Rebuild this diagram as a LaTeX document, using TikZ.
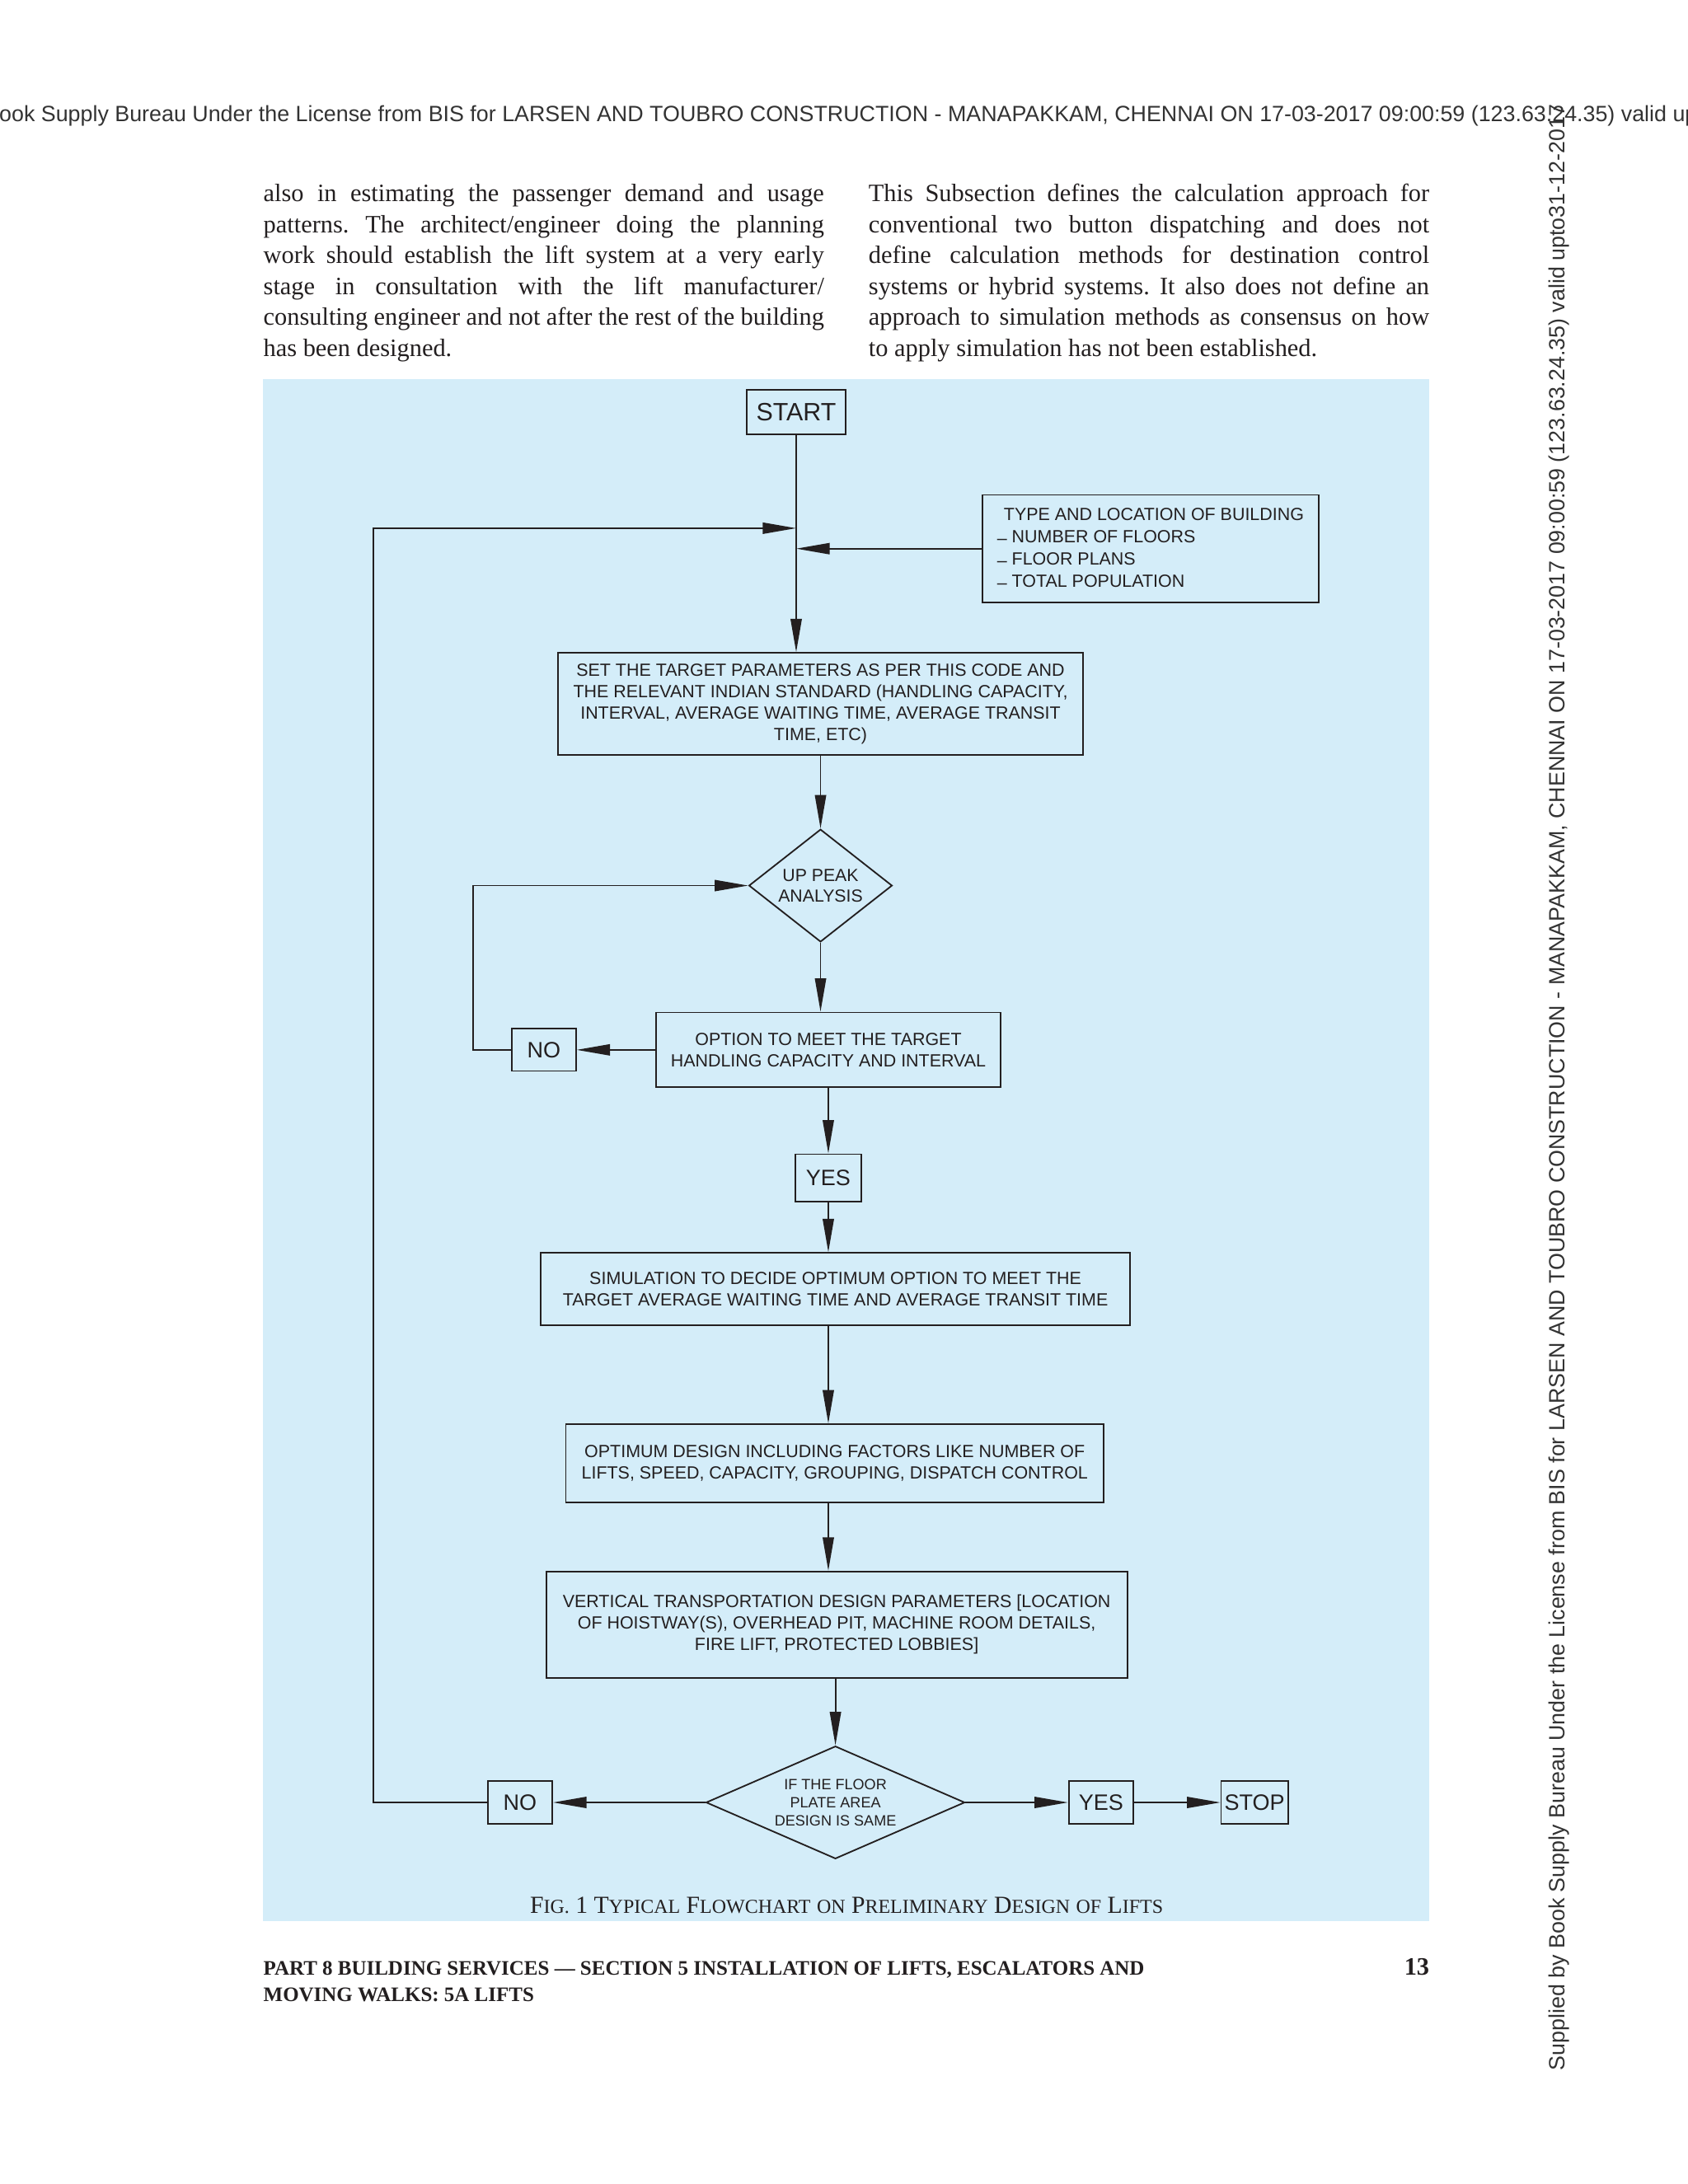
\documentclass[tikz,border=0pt]{standalone}
\usepackage{fontspec}
\setmainfont{Liberation Serif}
\setsansfont{Liberation Sans}
\usetikzlibrary{arrows.meta, shapes.geometric}
\definecolor{bl}{RGB}{212,237,249}
\definecolor{k}{HTML}{231F20}
\definecolor{g}{HTML}{333333}
\newcommand{\sct}[2]{#1{\fontsize{7.1}{9}\selectfont #2}}
\newcommand{\lowdash}{\raisebox{-0.6pt}{–} }
\frenchspacing

\begin{document}
\begin{tikzpicture}[x=0.5pt, y=-0.5pt,
    box/.style={draw=k, line width=0.55pt, inner sep=0pt, align=center, text=k,
        font=\sffamily\fontsize{6.35}{7.7}\selectfont},
    tag/.style={draw=k, line width=0.55pt, inner sep=0pt, text=k,
        font=\sffamily\fontsize{8}{9}\selectfont},
    dia/.style={box, diamond},
    arr/.style={-{Triangle[length=12pt,width=4pt]}, line width=0.55pt, draw=k}]

			% Page and figure panel
			\fill[white] (0,0) rectangle (1213.3,1570);
			\useasboundingbox (0,0) rectangle (1213.3,1570);
			\fill[bl] (189,272.5) rectangle (1027.5,1381);

			% Licence stamps along the top and the right side
			\node[anchor=base west, inner sep=0pt, text=g, font=\sffamily\fontsize{7.95}{9}\selectfont] (stamptop) at (29.2,87.5)
				{\llap{Supplied by Book }Supply Bureau Under the License from BIS for LARSEN AND TOUBRO CONSTRUCTION - MANAPAKKAM, CHENNAI ON 17-03-2017 09:00:59 (123.63.24.35) valid upto31-12-2017};
			\node[rotate=90, anchor=base west, inner sep=0pt, text=g, font=\sffamily\fontsize{7.95}{9}\selectfont] (stampside) at (1124.6,1488.8)
				{Supplied by Book Supply Bureau Under the License from BIS for LARSEN AND TOUBRO CONSTRUCTION - MANAPAKKAM, CHENNAI ON 17-03-2017 09:00:59 (123.63.24.35) valid upto31-12-2017};

			% Two columns of running text
			\node[anchor=base west, inner sep=0pt, text=k] (colL) at (189,145.1)
				{\parbox[t]{201.5pt}{\fontsize{9}{11.1}\selectfont\hyphenpenalty=10000 \tolerance=10000
				also in estimating the passenger demand and usage\linebreak
				patterns. The architect/engineer doing the planning\linebreak
				work should establish the lift system at a very early\linebreak
				stage in consultation with the lift manufacturer/\linebreak
				consulting engineer and not after the rest of the building\linebreak
				has been designed.}};
			\node[anchor=base west, inner sep=0pt, text=k] (colR) at (624,145.1)
				{\parbox[t]{201.5pt}{\fontsize{9}{11.1}\selectfont\hyphenpenalty=10000 \tolerance=10000
				This Subsection defines the calculation approach for\linebreak
				conventional two button dispatching and does not\linebreak
				define calculation methods for destination control\linebreak
				systems or hybrid systems. It also does not define an\linebreak
				approach to simulation methods as consensus on how\linebreak
				to apply simulation has not been established.}};

			% Flowchart boxes
			\node[tag, minimum width=35.45pt, minimum height=16.2pt, font=\sffamily\fontsize{9}{10}\selectfont] (start) at (572.3,296.2) {START};
			\node[box, align=left, minimum width=120.85pt, minimum height=38.6pt,
				font=\sffamily\fontsize{6.35}{8.05}\selectfont] (type) at (827,394.4)
				{\hspace{2.4pt}TYPE AND LOCATION OF BUILDING\\\lowdash NUMBER OF FLOORS\\\lowdash FLOOR PLANS\\\lowdash TOTAL POPULATION};
			\node[box, minimum width=188.8pt, minimum height=36.65pt] (set) at (589.8,506)
				{SET THE TARGET PARAMETERS AS PER THIS CODE AND\\THE RELEVANT INDIAN STANDARD (HANDLING CAPACITY,\\INTERVAL, AVERAGE WAITING TIME, AVERAGE TRANSIT\\TIME, ETC)};
			\node[dia, aspect=1.27, minimum width=51.5pt, minimum height=40.5pt,
				font=\sffamily\fontsize{6.3}{7.55}\selectfont] (d1) at (589.8,636.6) {UP PEAK\\ANALYSIS};
			\node[box, minimum width=123.8pt, minimum height=26.9pt] (meet) at (595.4,754.7)
				{OPTION TO MEET THE TARGET\\HANDLING CAPACITY AND INTERVAL};
			\node[tag, minimum width=23.05pt, minimum height=15.15pt] (no1) at (390.9,754.7) {NO};
			\node[tag, minimum width=23.6pt, minimum height=17.1pt] (yes1) at (595.4,846.8) {YES};
			\node[box, minimum width=211.95pt, minimum height=26pt] (sim) at (600.5,926.7)
				{SIMULATION TO DECIDE OPTIMUM OPTION TO MEET THE\\TARGET AVERAGE WAITING TIME AND AVERAGE TRANSIT TIME};
			\node[box, minimum width=193.25pt, minimum height=28.2pt] (optimum) at (600,1052)
				{OPTIMUM DESIGN INCLUDING FACTORS LIKE NUMBER OF\\LIFTS, SPEED, CAPACITY, GROUPING, DISPATCH CONTROL};
			\node[box, minimum width=208.85pt, minimum height=38.25pt] (vtp) at (601.4,1167.9)
				{VERTICAL TRANSPORTATION DESIGN PARAMETERS [LOCATION\\OF HOISTWAY(S), OVERHEAD PIT, MACHINE ROOM DETAILS,\\FIRE LIFT, PROTECTED LOBBIES]};
			\node[dia, aspect=2.3, minimum width=93pt, minimum height=40.5pt,
				font=\sffamily\fontsize{5.35}{6.5}\selectfont] (d2) at (600.5,1295.7) {IF THE FLOOR\\PLATE AREA\\DESIGN IS SAME};
			\node[tag, minimum width=23.2pt, minimum height=15.35pt] (no2) at (373.8,1295.7) {NO};
			\node[tag, minimum width=23.3pt, minimum height=15.2pt] (yes2) at (791.5,1295.7) {YES};
			\node[tag, minimum width=24.05pt, minimum height=15.2pt] (stop) at (901.8,1295.7) {STOP};

			% Connectors
			\coordinate (jA) at (572.3,379.7);
			\draw[arr] (start.south) -- (start.south |- set.north);
			\draw[arr] (type.west) -- (type.west -| start.south);
			\draw[arr] (no2.west) -- ++(-81.6,0) |- (jA);
			\draw[arr] (set.south) -- (d1.north);
			\draw[arr] (d1.south) -- (d1.south |- meet.north);
			\draw[arr] (meet.west) -- (no1.east);
			\draw[arr] (no1.west) -- ++(-27.3,0) |- (d1.west);
			\draw[arr] (meet.south) -- (yes1.north);
			\draw[arr] (yes1.south) -- (yes1.south |- sim.north);
			\draw[arr] (sim.south -| yes1.south) -- (optimum.north -| yes1.south);
			\draw[arr] (optimum.south -| yes1.south) -- (vtp.north -| yes1.south);
			\draw[arr] (vtp.south -| d2.north) -- (d2.north);
			\draw[arr] (d2.west) -- (no2.east);
			\draw[arr] (d2.east) -- (yes2.west);
			\draw[arr] (yes2.east) -- (stop.west);

			% Caption and page footer
			\node[anchor=base, inner sep=0pt, text=k, font=\fontsize{8.8}{10}\selectfont] (cap) at (608.5,1375.4)
				{\sct{F}{IG.} 1 \sct{T}{YPICAL} \sct{F}{LOWCHART} {\fontsize{7.1}{9}\selectfont ON} \sct{P}{RELIMINARY} \sct{D}{ESIGN} {\fontsize{7.1}{9}\selectfont OF} \sct{L}{IFTS}};
			\node[anchor=base west, inner sep=0pt, text=k] (foot) at (189,1419.8)
				{\parbox[t]{330pt}{\raggedright\fontsize{7.4}{9.5}\selectfont\bfseries PART 8 BUILDING SERVICES — SECTION 5 INSTALLATION OF LIFTS, ESCALATORS AND\\MOVING WALKS: 5A LIFTS}};
			\node[anchor=base east, inner sep=0pt, text=k, font=\fontsize{9}{10}\selectfont\bfseries] (pg) at (1027.8,1419.8) {13};
		\end{tikzpicture}
\end{document}
